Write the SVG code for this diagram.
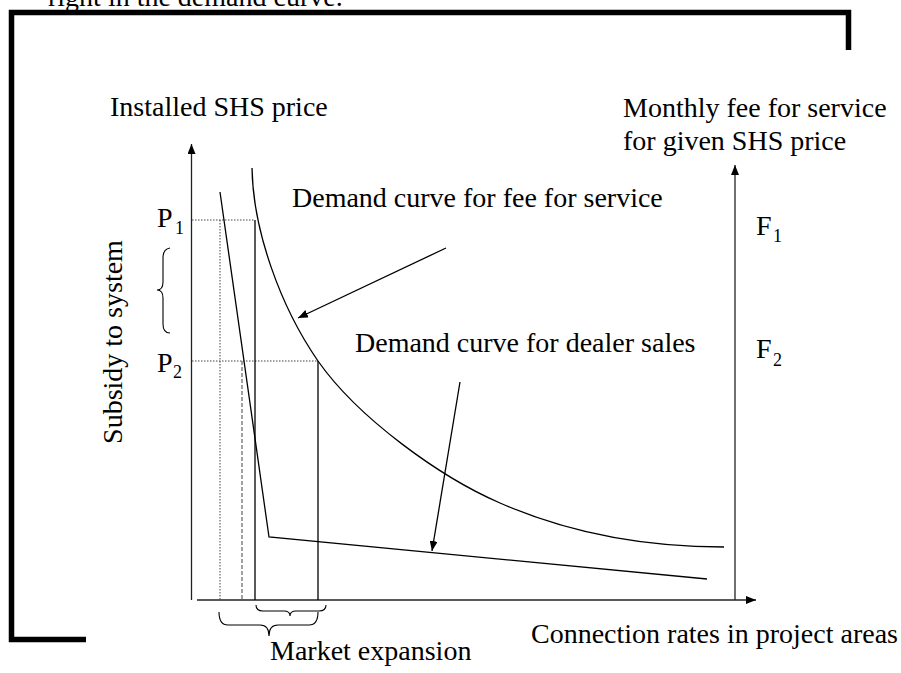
<svg xmlns="http://www.w3.org/2000/svg" width="901" height="673" viewBox="0 0 901 673">
<style>
text{font-family:"Liberation Serif","Times New Roman",serif;font-size:28px;fill:#000}
.sub{font-size:18px}
.ax{stroke:#222;stroke-width:1.3;fill:none}
.ln{stroke:#000;stroke-width:1.3;fill:none}
.dot{stroke:#444;stroke-width:1;stroke-dasharray:1.5,1.5;fill:none}
.dash{stroke:#444;stroke-width:1;stroke-dasharray:4,2;fill:none}
.br{stroke:#000;stroke-width:1.1;fill:none}
.frame{stroke:#000;stroke-width:5.5;fill:none;stroke-linejoin:miter}
</style>
<defs>
<marker id="ah" markerWidth="10" markerHeight="8" refX="10" refY="4" orient="auto" markerUnits="userSpaceOnUse">
<path d="M0,0 L10,4 L0,8 Z" fill="#000"/>
</marker>
</defs>
<text x="48" y="6">right in the demand curve.</text>
<g id="frame">
<path class="frame" d="M848.5,50 V12.5 H11.5 V639.5 H86"/>
</g>
<g id="axes">
<line class="ax" x1="191.5" y1="600" x2="191.5" y2="144" marker-end="url(#ah)"/>
<line class="ax" x1="197" y1="600" x2="756" y2="600" marker-end="url(#ah)"/>
<line class="ax" x1="735" y1="600" x2="735" y2="165" marker-end="url(#ah)"/>
</g>
<g id="guides">
<line class="dot" x1="192" y1="220" x2="255" y2="220"/>
<line class="dot" x1="192" y1="361" x2="318" y2="361"/>
<line class="dot" x1="220" y1="220" x2="220" y2="600"/>
<line class="dash" x1="242" y1="361" x2="242" y2="600"/>
<line class="ln" x1="255" y1="220" x2="255" y2="600"/>
<line class="ln" x1="318" y1="361" x2="318" y2="600"/>
</g>
<g id="curves">
<polyline class="ln" points="220,192 269,537 707,579"/>
<path class="ln" d="M252,168 C253,230 280,306 318,361 C358,418 440,477 500,503 C580,538 660,547 724,547"/>
</g>
<g id="connectors">
<line class="ln" x1="446" y1="248" x2="298" y2="318" marker-end="url(#ah)"/>
<line class="ln" x1="460" y1="382" x2="432" y2="551" marker-end="url(#ah)"/>
</g>
<g id="braces">
<path class="br" d="M170,248 Q163,249 163,258 L163,282 Q163,290 157,290 Q163,290 163,298 L163,324 Q163,333 170,333"/>
<path class="br" d="M256,605 Q256,611 263,611 L284,611 Q290,611 290,616 Q290,611 296,611 L319,611 Q326,611 326,605"/>
<path class="br" d="M219,612 Q219,625 228,625 L260,625 Q269,625 269,636 Q269,625 278,625 L309,625 Q318,625 318,612"/>
</g>
<g id="labels">
<text x="110" y="116">Installed SHS price</text>
<text x="623" y="117">Monthly fee for service</text>
<text x="623" y="150">for given SHS price</text>
<text x="292" y="207">Demand curve for fee for service</text>
<text x="355" y="352">Demand curve for dealer sales</text>
<text x="157" y="227">P</text><text class="sub" x="175" y="234">1</text>
<text x="157" y="372">P</text><text class="sub" x="173" y="378">2</text>
<text x="756" y="235">F</text><text class="sub" x="773" y="242">1</text>
<text x="756" y="358">F</text><text class="sub" x="773" y="366">2</text>
<text transform="translate(122,342) rotate(-90)" text-anchor="middle">Subsidy to system</text>
<text x="531" y="643">Connection rates in project areas</text>
<text x="270" y="660">Market expansion</text>
</g>
</svg>
